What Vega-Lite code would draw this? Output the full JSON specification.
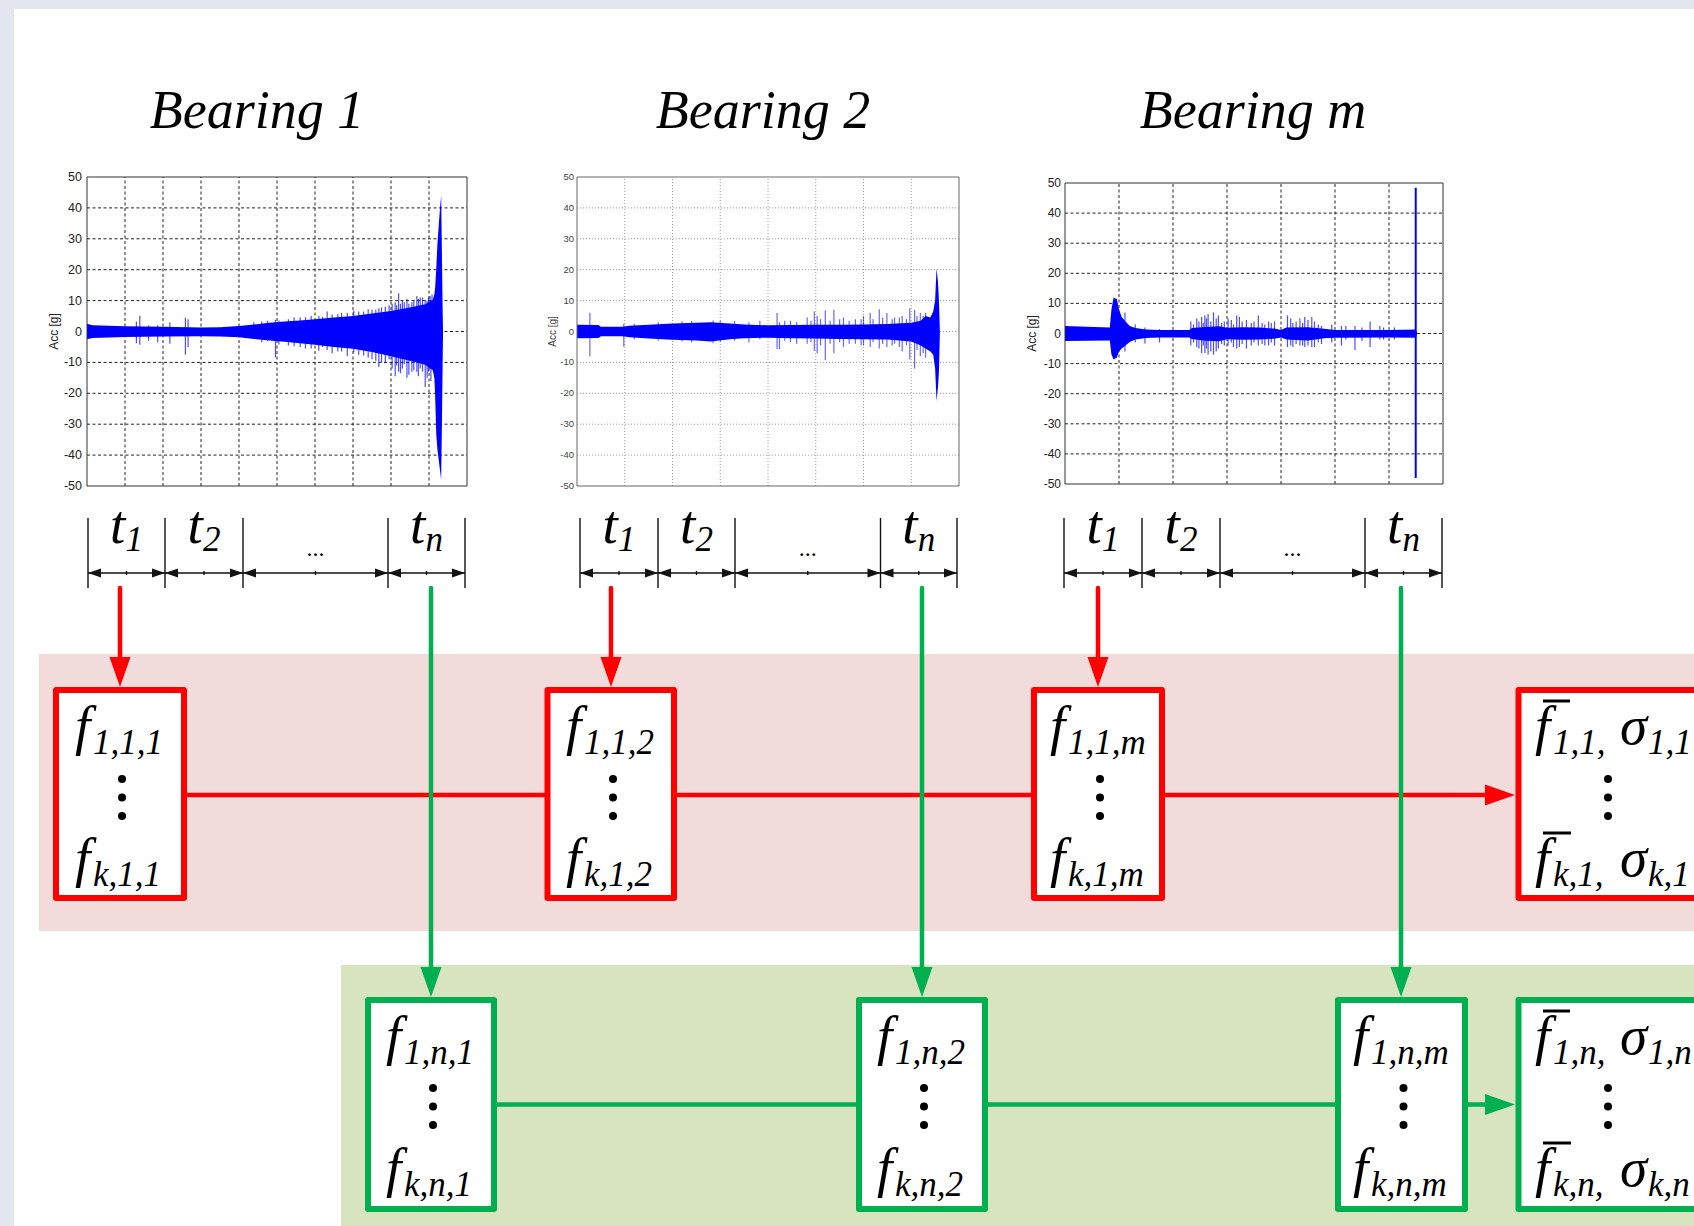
{
  "$schema": "https://vega.github.io/schema/vega-lite/v6.json",
  "width": 1694,
  "height": 1226,
  "autosize": {"type": "none"},
  "padding": 0,
  "background": "#e3e6ee",
  "config": {"view": {"stroke": null}, "axis": {"disable": true}, "legend": {"disable": true}},
  "resolve": {"scale": {"x": "independent", "y": "independent"}},
  "layer": [
    {
      "encoding": {
        "x": {"field": "x", "type": "quantitative", "scale": {"domain": [0, 1694], "range": [0, 1694], "nice": false, "zero": false}},
        "y": {"field": "y", "type": "quantitative", "scale": {"domain": [0, 1226], "range": [0, 1226], "nice": false, "zero": false}}
      },
      "layer": [
        {"data": {"values": [{"x": 14, "y": 9, "x2": 1700, "y2": 1230}]}, "mark": {"type": "rect", "fill": "#ffffff"}, "encoding": {"x2": {"field": "x2"}, "y2": {"field": "y2"}}},
        {"data": {"values": [{"x": 39, "y": 654, "x2": 1700, "y2": 931}]}, "mark": {"type": "rect", "fill": "#f2dcdb"}, "encoding": {"x2": {"field": "x2"}, "y2": {"field": "y2"}}},
        {"data": {"values": [{"x": 341, "y": 965, "x2": 1700, "y2": 1230}]}, "mark": {"type": "rect", "fill": "#d7e4bd"}, "encoding": {"x2": {"field": "x2"}, "y2": {"field": "y2"}}},
        {"data": {"values": [
          {"x": 120, "y": 588, "x2": 120, "y2": 670},
          {"x": 611, "y": 588, "x2": 611, "y2": 670},
          {"x": 1098, "y": 588, "x2": 1098, "y2": 670},
          {"x": 184, "y": 795, "x2": 1495, "y2": 795}
        ]}, "mark": {"type": "rule", "color": "#ff0000", "strokeWidth": 4.5, "strokeCap": "round"}, "encoding": {"x2": {"field": "x2"}, "y2": {"field": "y2"}}},
        {"data": {"values": [
          {"x": 56, "x2": 184, "y": 690, "y2": 898},
          {"x": 547.5, "x2": 674, "y": 690, "y2": 898},
          {"x": 1034, "x2": 1162, "y": 690, "y2": 898},
          {"x": 1518.5, "x2": 1760, "y": 690, "y2": 898}
        ]}, "mark": {"type": "rect", "fill": "#ffffff", "stroke": "#ff0000", "strokeWidth": 6, "strokeJoin": "round"}, "encoding": {"x2": {"field": "x2"}, "y2": {"field": "y2"}}},
        {"data": {"values": [
          {"x": 431, "y": 588, "x2": 431, "y2": 980},
          {"x": 922, "y": 588, "x2": 922, "y2": 980},
          {"x": 1401, "y": 588, "x2": 1401, "y2": 980},
          {"x": 494, "y": 1104.5, "x2": 1495, "y2": 1104.5}
        ]}, "mark": {"type": "rule", "color": "#00b050", "strokeWidth": 4.5, "strokeCap": "round"}, "encoding": {"x2": {"field": "x2"}, "y2": {"field": "y2"}}},
        {"data": {"values": [
          {"x": 368, "x2": 494, "y": 1000, "y2": 1209},
          {"x": 859, "x2": 985, "y": 1000, "y2": 1209},
          {"x": 1338, "x2": 1465, "y": 1000, "y2": 1209},
          {"x": 1518.5, "x2": 1760, "y": 1000, "y2": 1209}
        ]}, "mark": {"type": "rect", "fill": "#ffffff", "stroke": "#00b050", "strokeWidth": 6, "strokeJoin": "round"}, "encoding": {"x2": {"field": "x2"}, "y2": {"field": "y2"}}},
        {"data": {"values": [
          {"x": 120, "y": 687, "dir": "down"},
          {"x": 611, "y": 687, "dir": "down"},
          {"x": 1098, "y": 687, "dir": "down"},
          {"x": 1515, "y": 795, "dir": "right"}
        ]}, "mark": {"type": "point", "filled": true, "opacity": 1, "size": 900, "color": "#ff0000", "strokeWidth": 0},
         "encoding": {"shape": {"field": "dir", "type": "nominal", "scale": {"domain": ["down", "right", "left"], "range": ["M0,0L-0.7,-2L0.7,-2Z", "M0,0L-2,-0.7L-2,0.7Z", "M0,0L2,-0.7L2,0.7Z"]}}}},
        {"data": {"values": [
          {"x": 431, "y": 997, "dir": "down"},
          {"x": 922, "y": 997, "dir": "down"},
          {"x": 1401, "y": 997, "dir": "down"},
          {"x": 1515, "y": 1104.5, "dir": "right"}
        ]}, "mark": {"type": "point", "filled": true, "opacity": 1, "size": 900, "color": "#00b050", "strokeWidth": 0},
         "encoding": {"shape": {"field": "dir", "type": "nominal", "scale": {"domain": ["down", "right", "left"], "range": ["M0,0L-0.7,-2L0.7,-2Z", "M0,0L-2,-0.7L-2,0.7Z", "M0,0L2,-0.7L2,0.7Z"]}}}},
        {"data": {"values": [
          {"x": 88, "y": 518, "x2": 88, "y2": 588}, {"x": 165, "y": 518, "x2": 165, "y2": 588}, {"x": 243, "y": 518, "x2": 243, "y2": 588}, {"x": 388, "y": 518, "x2": 388, "y2": 588}, {"x": 465, "y": 518, "x2": 465, "y2": 588},
          {"x": 580, "y": 518, "x2": 580, "y2": 588}, {"x": 658, "y": 518, "x2": 658, "y2": 588}, {"x": 735, "y": 518, "x2": 735, "y2": 588}, {"x": 880.5, "y": 518, "x2": 880.5, "y2": 588}, {"x": 957, "y": 518, "x2": 957, "y2": 588},
          {"x": 1064, "y": 518, "x2": 1064, "y2": 588}, {"x": 1142, "y": 518, "x2": 1142, "y2": 588}, {"x": 1220, "y": 518, "x2": 1220, "y2": 588}, {"x": 1365, "y": 518, "x2": 1365, "y2": 588}, {"x": 1442, "y": 518, "x2": 1442, "y2": 588},
          {"x": 88, "y": 573, "x2": 465, "y2": 573}, {"x": 580, "y": 573, "x2": 957, "y2": 573}, {"x": 1064, "y": 573, "x2": 1442, "y2": 573},
          {"x": 126.5, "y": 571, "x2": 126.5, "y2": 575}, {"x": 204, "y": 571, "x2": 204, "y2": 575}, {"x": 315.5, "y": 571, "x2": 315.5, "y2": 575}, {"x": 426.5, "y": 571, "x2": 426.5, "y2": 575},
          {"x": 619, "y": 571, "x2": 619, "y2": 575}, {"x": 696.5, "y": 571, "x2": 696.5, "y2": 575}, {"x": 807.75, "y": 571, "x2": 807.75, "y2": 575}, {"x": 918.75, "y": 571, "x2": 918.75, "y2": 575},
          {"x": 1103, "y": 571, "x2": 1103, "y2": 575}, {"x": 1181, "y": 571, "x2": 1181, "y2": 575}, {"x": 1292.5, "y": 571, "x2": 1292.5, "y2": 575}, {"x": 1403.5, "y": 571, "x2": 1403.5, "y2": 575}
        ]}, "mark": {"type": "rule", "color": "#111111", "strokeWidth": 1.4}, "encoding": {"x2": {"field": "x2"}, "y2": {"field": "y2"}}},
        {"data": {"values": [
          {"x": 88, "y": 573, "dir": "left"}, {"x": 165, "y": 573, "dir": "right"}, {"x": 165, "y": 573, "dir": "left"}, {"x": 243, "y": 573, "dir": "right"}, {"x": 243, "y": 573, "dir": "left"}, {"x": 388, "y": 573, "dir": "right"}, {"x": 388, "y": 573, "dir": "left"}, {"x": 465, "y": 573, "dir": "right"},
          {"x": 580, "y": 573, "dir": "left"}, {"x": 658, "y": 573, "dir": "right"}, {"x": 658, "y": 573, "dir": "left"}, {"x": 735, "y": 573, "dir": "right"}, {"x": 735, "y": 573, "dir": "left"}, {"x": 880.5, "y": 573, "dir": "right"}, {"x": 880.5, "y": 573, "dir": "left"}, {"x": 957, "y": 573, "dir": "right"},
          {"x": 1064, "y": 573, "dir": "left"}, {"x": 1142, "y": 573, "dir": "right"}, {"x": 1142, "y": 573, "dir": "left"}, {"x": 1220, "y": 573, "dir": "right"}, {"x": 1220, "y": 573, "dir": "left"}, {"x": 1365, "y": 573, "dir": "right"}, {"x": 1365, "y": 573, "dir": "left"}, {"x": 1442, "y": 573, "dir": "right"}
        ]}, "mark": {"type": "point", "filled": true, "opacity": 1, "size": 169, "color": "#111111", "strokeWidth": 0},
         "encoding": {"shape": {"field": "dir", "type": "nominal", "scale": {"domain": ["down", "right", "left"], "range": ["M0,0L-0.7,-2L0.7,-2Z", "M0,0L-2,-0.7L-2,0.7Z", "M0,0L2,-0.7L2,0.7Z"]}}}},
        {"data": {"values": [
          {"x": 110, "y": 543, "s": "t"}, {"x": 187.5, "y": 543, "s": "t"}, {"x": 410, "y": 543, "s": "t"},
          {"x": 602.5, "y": 543, "s": "t"}, {"x": 680, "y": 543, "s": "t"}, {"x": 902.25, "y": 543, "s": "t"},
          {"x": 1086.5, "y": 543, "s": "t"}, {"x": 1164.5, "y": 543, "s": "t"}, {"x": 1387, "y": 543, "s": "t"},
          {"x": 75, "y": 744, "s": "f"}, {"x": 566, "y": 744, "s": "f"}, {"x": 1050, "y": 744, "s": "f"}, {"x": 1535, "y": 744, "s": "f"}, {"x": 1620, "y": 744, "s": "σ"},
          {"x": 75, "y": 876, "s": "f"}, {"x": 566, "y": 876, "s": "f"}, {"x": 1050, "y": 876, "s": "f"}, {"x": 1535, "y": 876, "s": "f"}, {"x": 1620, "y": 876, "s": "σ"},
          {"x": 386, "y": 1054, "s": "f"}, {"x": 877, "y": 1054, "s": "f"}, {"x": 1353, "y": 1054, "s": "f"}, {"x": 1535, "y": 1054, "s": "f"}, {"x": 1620, "y": 1054, "s": "σ"},
          {"x": 386, "y": 1186, "s": "f"}, {"x": 877, "y": 1186, "s": "f"}, {"x": 1353, "y": 1186, "s": "f"}, {"x": 1535, "y": 1186, "s": "f"}, {"x": 1620, "y": 1186, "s": "σ"}
        ]}, "mark": {"type": "text", "align": "left", "baseline": "alphabetic", "font": "Liberation Serif", "fontStyle": "italic", "fontSize": 55, "color": "#000000"}, "encoding": {"text": {"field": "s", "type": "nominal"}}},
        {"data": {"values": [
          {"x": 125.5, "y": 551, "s": "1"}, {"x": 203, "y": 551, "s": "2"}, {"x": 425.5, "y": 551, "s": "n"},
          {"x": 618, "y": 551, "s": "1"}, {"x": 695.5, "y": 551, "s": "2"}, {"x": 917.75, "y": 551, "s": "n"},
          {"x": 1102, "y": 551, "s": "1"}, {"x": 1180, "y": 551, "s": "2"}, {"x": 1402.5, "y": 551, "s": "n"},
          {"x": 93, "y": 754, "s": "1,1,1"}, {"x": 584, "y": 754, "s": "1,1,2"}, {"x": 1068, "y": 754, "s": "1,1,m"}, {"x": 1553, "y": 754, "s": "1,1,"}, {"x": 1648, "y": 754, "s": "1,1"},
          {"x": 93, "y": 886, "s": "k,1,1"}, {"x": 584, "y": 886, "s": "k,1,2"}, {"x": 1068, "y": 886, "s": "k,1,m"}, {"x": 1553, "y": 886, "s": "k,1,"}, {"x": 1648, "y": 886, "s": "k,1"},
          {"x": 404, "y": 1064, "s": "1,n,1"}, {"x": 895, "y": 1064, "s": "1,n,2"}, {"x": 1371, "y": 1064, "s": "1,n,m"}, {"x": 1553, "y": 1064, "s": "1,n,"}, {"x": 1648, "y": 1064, "s": "1,n"},
          {"x": 404, "y": 1196, "s": "k,n,1"}, {"x": 895, "y": 1196, "s": "k,n,2"}, {"x": 1371, "y": 1196, "s": "k,n,m"}, {"x": 1553, "y": 1196, "s": "k,n,"}, {"x": 1648, "y": 1196, "s": "k,n"}
        ]}, "mark": {"type": "text", "align": "left", "baseline": "alphabetic", "font": "Liberation Serif", "fontStyle": "italic", "fontSize": 35, "color": "#000000"}, "encoding": {"text": {"field": "s", "type": "nominal"}}},
        {"data": {"values": [
          {"x": 315.5, "y": 556, "s": "..."}, {"x": 807.75, "y": 556, "s": "..."}, {"x": 1292.5, "y": 556, "s": "..."}
        ]}, "mark": {"type": "text", "align": "center", "baseline": "alphabetic", "font": "Liberation Serif", "fontSize": 24, "color": "#000000"}, "encoding": {"text": {"field": "s", "type": "nominal"}}},
        {"data": {"values": [
          {"x": 1543, "y": 701, "x2": 1570, "y2": 701}, {"x": 1543, "y": 833, "x2": 1571, "y2": 833},
          {"x": 1543, "y": 1011, "x2": 1570, "y2": 1011}, {"x": 1543, "y": 1143, "x2": 1571, "y2": 1143}
        ]}, "mark": {"type": "rule", "color": "#000000", "strokeWidth": 3}, "encoding": {"x2": {"field": "x2"}, "y2": {"field": "y2"}}},
        {"data": {"values": [
          {"x": 122, "y": 779}, {"x": 122, "y": 797.5}, {"x": 122, "y": 816},
          {"x": 613, "y": 779}, {"x": 613, "y": 797.5}, {"x": 613, "y": 816},
          {"x": 1100, "y": 779}, {"x": 1100, "y": 797.5}, {"x": 1100, "y": 816},
          {"x": 1608, "y": 779}, {"x": 1608, "y": 797.5}, {"x": 1608, "y": 816},
          {"x": 433, "y": 1088}, {"x": 433, "y": 1106.5}, {"x": 433, "y": 1125},
          {"x": 924, "y": 1088}, {"x": 924, "y": 1106.5}, {"x": 924, "y": 1125},
          {"x": 1403.5, "y": 1088}, {"x": 1403.5, "y": 1106.5}, {"x": 1403.5, "y": 1125},
          {"x": 1608, "y": 1088}, {"x": 1608, "y": 1106.5}, {"x": 1608, "y": 1125}
        ]}, "mark": {"type": "circle", "size": 64, "opacity": 1, "color": "#000000"}},
        {"data": {"values": [
          {"x": 257, "y": 128, "label": "Bearing 1"}, {"x": 763, "y": 128, "label": "Bearing 2"}, {"x": 1253, "y": 128, "label": "Bearing m"}
        ]}, "mark": {"type": "text", "align": "center", "baseline": "alphabetic", "font": "Liberation Serif", "fontStyle": "italic", "fontSize": 54, "color": "#000000"}, "encoding": {"text": {"field": "label", "type": "nominal"}}}
      ]
    },
    {
      "layer": [
        {"data": {"values": [{"v": -40}, {"v": -30}, {"v": -20}, {"v": -10}, {"v": 0}, {"v": 10}, {"v": 20}, {"v": 30}, {"v": 40}]},
         "mark": {"type": "rule", "color": "#222222", "strokeWidth": 1, "strokeDash": [3, 2.5]},
         "encoding": {"x": {"datum": 0, "type": "quantitative", "scale": {"domain": [0, 10], "range": [87, 467], "nice": false, "zero": false}}, "x2": {"datum": 10},
                      "y": {"field": "v", "type": "quantitative", "scale": {"domain": [-50, 50], "range": [486, 177], "nice": false, "zero": false}}}},
        {"data": {"values": [{"v": 1}, {"v": 2}, {"v": 3}, {"v": 4}, {"v": 5}, {"v": 6}, {"v": 7}, {"v": 8}, {"v": 9}]},
         "mark": {"type": "rule", "color": "#222222", "strokeWidth": 1, "strokeDash": [3, 2.5]},
         "encoding": {"x": {"field": "v", "type": "quantitative", "scale": {"domain": [0, 10], "range": [87, 467], "nice": false, "zero": false}},
                      "y": {"datum": -50, "type": "quantitative", "scale": {"domain": [-50, 50], "range": [486, 177], "nice": false, "zero": false}}, "y2": {"datum": 50}}},
        {"data": {"values": [
          {"t": 0, "hi": 2.5, "lo": -2.5}, {"t": 0.15, "hi": 2, "lo": -2.1}, {"t": 1, "hi": 1.7, "lo": -1.8}, {"t": 2, "hi": 1.5, "lo": -1.6}, {"t": 3, "hi": 1.3, "lo": -1.5}, {"t": 3.5, "hi": 1.4, "lo": -1.6}, {"t": 4, "hi": 1.8, "lo": -1.9}, {"t": 4.4, "hi": 2.3, "lo": -2.4}, {"t": 4.8, "hi": 2.8, "lo": -2.9}, {"t": 5.2, "hi": 3.2, "lo": -3.3}, {"t": 5.6, "hi": 3.6, "lo": -3.8}, {"t": 6, "hi": 4, "lo": -4.3}, {"t": 6.5, "hi": 4.5, "lo": -5}, {"t": 7, "hi": 5, "lo": -5.6}, {"t": 7.5, "hi": 5.8, "lo": -6.6}, {"t": 8, "hi": 6.6, "lo": -8}, {"t": 8.5, "hi": 7.8, "lo": -9.5}, {"t": 8.9, "hi": 8.8, "lo": -10.8}, {"t": 9.1, "hi": 10.3, "lo": -12.5}, {"t": 9.14, "hi": 12, "lo": -15}, {"t": 9.16, "hi": 14, "lo": -20}, {"t": 9.19, "hi": 20, "lo": -33}, {"t": 9.22, "hi": 28, "lo": -38}, {"t": 9.26, "hi": 35, "lo": -42}, {"t": 9.29, "hi": 40, "lo": -45}, {"t": 9.32, "hi": 44, "lo": -48}, {"t": 9.34, "hi": 25, "lo": -30}, {"t": 9.36, "hi": 6, "lo": -9}, {"t": 9.37, "hi": 0, "lo": 0}
         ]},
         "mark": {"type": "area", "color": "#0000ff", "opacity": 1},
         "encoding": {"x": {"field": "t", "type": "quantitative", "scale": {"domain": [0, 10], "range": [87, 467], "nice": false, "zero": false}},
                      "y": {"field": "hi", "type": "quantitative", "scale": {"domain": [-50, 50], "range": [486, 177], "nice": false, "zero": false}}, "y2": {"field": "lo"}}},
        {"data": {"values": [
          {"t": 1.30, "hi": 3.2, "lo": -3.8}, {"t": 1.39, "hi": 5.1, "lo": -4.3}, {"t": 1.62, "hi": 2, "lo": -3}, {"t": 1.86, "hi": 2, "lo": -3.5}, {"t": 2.18, "hi": 3, "lo": -4}, {"t": 2.59, "hi": 4.5, "lo": -7.5}, {"t": 2.66, "hi": 4, "lo": -5}, {"t": 4.39, "hi": 3, "lo": -2}, {"t": 4.96, "hi": 3.8, "lo": -8.4}, {"t": 5.3, "hi": 4, "lo": -4.5}, {"t": 5.61, "hi": 4.5, "lo": -5}, {"t": 5.9, "hi": 5, "lo": -5.5}, {"t": 6.32, "hi": 6.5, "lo": -6}, {"t": 6.7, "hi": 6, "lo": -6.5}, {"t": 7.02, "hi": 6.8, "lo": -6.8}, {"t": 7.28, "hi": 6.5, "lo": -7.8}, {"t": 7.5, "hi": 7, "lo": -9}, {"t": 7.68, "hi": 7.5, "lo": -11.5}, {"t": 7.85, "hi": 8, "lo": -10}, {"t": 8.03, "hi": 9, "lo": -12}, {"t": 8.11, "hi": 9.5, "lo": -14.5}, {"t": 8.2, "hi": 12.4, "lo": -13}, {"t": 8.3, "hi": 10, "lo": -12}, {"t": 8.42, "hi": 10.5, "lo": -15}, {"t": 8.55, "hi": 9.5, "lo": -13}, {"t": 8.68, "hi": 11.5, "lo": -13}, {"t": 8.77, "hi": 11, "lo": -12}, {"t": 8.9, "hi": 10, "lo": -18}, {"t": 8.99, "hi": 11, "lo": -13}, {"t": 9.08, "hi": 12, "lo": -11},
          {"t": 4.6, "hi": 3.2, "lo": -3.5}, {"t": 4.75, "hi": 3.5, "lo": -3}, {"t": 5.05, "hi": 3.6, "lo": -4.2}, {"t": 5.45, "hi": 4.5, "lo": -4.8}, {"t": 5.75, "hi": 4.6, "lo": -5.5}, {"t": 6.1, "hi": 5, "lo": -6.2}, {"t": 6.2, "hi": 4.8, "lo": -5}, {"t": 6.45, "hi": 5.5, "lo": -7}, {"t": 6.6, "hi": 5.6, "lo": -6.5}, {"t": 6.85, "hi": 6, "lo": -8}, {"t": 7.15, "hi": 6.5, "lo": -7.5}, {"t": 7.4, "hi": 7.2, "lo": -8.5}, {"t": 7.6, "hi": 7, "lo": -9.5}, {"t": 7.75, "hi": 7.8, "lo": -10}, {"t": 7.95, "hi": 8.5, "lo": -9}, {"t": 8.15, "hi": 8.5, "lo": -11}, {"t": 8.25, "hi": 9, "lo": -13.5}, {"t": 8.35, "hi": 9.5, "lo": -10.5}, {"t": 8.47, "hi": 9, "lo": -14}, {"t": 8.6, "hi": 10, "lo": -12.5}, {"t": 8.72, "hi": 10.5, "lo": -14.5}, {"t": 8.83, "hi": 11, "lo": -13}, {"t": 8.95, "hi": 10, "lo": -15}, {"t": 9.03, "hi": 11.5, "lo": -12}, {"t": 9.05, "hi": 10, "lo": -16}
         ]},
         "mark": {"type": "rule", "color": "#0000ff", "strokeWidth": 1.2, "opacity": 0.7},
         "encoding": {"x": {"field": "t", "type": "quantitative", "scale": {"domain": [0, 10], "range": [87, 467], "nice": false, "zero": false}},
                      "y": {"field": "hi", "type": "quantitative", "scale": {"domain": [-50, 50], "range": [486, 177], "nice": false, "zero": false}}, "y2": {"field": "lo"}}},
        {"data": {"values": [{}]},
         "mark": {"type": "rect", "filled": false, "stroke": "#333333", "strokeWidth": 1},
         "encoding": {"x": {"datum": 0, "type": "quantitative", "scale": {"domain": [0, 10], "range": [87, 467], "nice": false, "zero": false}}, "x2": {"datum": 10},
                      "y": {"datum": -50, "type": "quantitative", "scale": {"domain": [-50, 50], "range": [486, 177], "nice": false, "zero": false}}, "y2": {"datum": 50}}},
        {"data": {"values": [{"v": 50, "lab": "50"}, {"v": 40, "lab": "40"}, {"v": 30, "lab": "30"}, {"v": 20, "lab": "20"}, {"v": 10, "lab": "10"}, {"v": 0, "lab": "0"}, {"v": -10, "lab": "-10"}, {"v": -20, "lab": "-20"}, {"v": -30, "lab": "-30"}, {"v": -40, "lab": "-40"}, {"v": -50, "lab": "-50"}]},
         "mark": {"type": "text", "align": "right", "baseline": "middle", "dx": -5, "font": "Liberation Sans Narrow, Liberation Sans", "fontSize": 12.5, "color": "#222222"},
         "encoding": {"x": {"datum": 0, "type": "quantitative", "scale": {"domain": [0, 10], "range": [87, 467], "nice": false, "zero": false}},
                      "y": {"field": "v", "type": "quantitative", "scale": {"domain": [-50, 50], "range": [486, 177], "nice": false, "zero": false}},
                      "text": {"field": "lab", "type": "nominal"}}},
        {"data": {"values": [{"lab": "Acc [g]"}]},
         "mark": {"type": "text", "align": "center", "baseline": "middle", "angle": 270, "font": "Liberation Sans", "fontSize": 12, "color": "#222222"},
         "encoding": {"x": {"datum": -0.88, "type": "quantitative", "scale": {"domain": [0, 10], "range": [87, 467], "nice": false, "zero": false}},
                      "y": {"datum": 0, "type": "quantitative", "scale": {"domain": [-50, 50], "range": [486, 177], "nice": false, "zero": false}},
                      "text": {"field": "lab", "type": "nominal"}}}
      ]
    },
    {
      "layer": [
        {"data": {"values": [{"v": -40}, {"v": -30}, {"v": -20}, {"v": -10}, {"v": 0}, {"v": 10}, {"v": 20}, {"v": 30}, {"v": 40}]},
         "mark": {"type": "rule", "color": "#9a9a9a", "strokeWidth": 1, "strokeDash": [1, 2]},
         "encoding": {"x": {"datum": 0, "type": "quantitative", "scale": {"domain": [0, 8], "range": [577, 959], "nice": false, "zero": false}}, "x2": {"datum": 8},
                      "y": {"field": "v", "type": "quantitative", "scale": {"domain": [-50, 50], "range": [486, 177], "nice": false, "zero": false}}}},
        {"data": {"values": [{"v": 1}, {"v": 2}, {"v": 3}, {"v": 4}, {"v": 5}, {"v": 6}, {"v": 7}]},
         "mark": {"type": "rule", "color": "#9a9a9a", "strokeWidth": 1, "strokeDash": [1, 2]},
         "encoding": {"x": {"field": "v", "type": "quantitative", "scale": {"domain": [0, 8], "range": [577, 959], "nice": false, "zero": false}},
                      "y": {"datum": -50, "type": "quantitative", "scale": {"domain": [-50, 50], "range": [486, 177], "nice": false, "zero": false}}, "y2": {"datum": 50}}},
        {"data": {"values": [
          {"t": 0, "hi": 2.2, "lo": -2.2}, {"t": 0.45, "hi": 2.1, "lo": -2.1}, {"t": 0.5, "hi": 1.5, "lo": -1.5}, {"t": 0.95, "hi": 1.5, "lo": -1.5}, {"t": 1.1, "hi": 1.9, "lo": -1.9}, {"t": 1.5, "hi": 2.2, "lo": -2.3}, {"t": 2, "hi": 2.6, "lo": -2.7}, {"t": 2.5, "hi": 2.8, "lo": -2.9}, {"t": 2.8, "hi": 3, "lo": -3.2}, {"t": 3.2, "hi": 2.6, "lo": -2.5}, {"t": 3.5, "hi": 2.3, "lo": -2.2}, {"t": 4, "hi": 2, "lo": -2}, {"t": 4.5, "hi": 2.1, "lo": -2.2}, {"t": 5, "hi": 2.2, "lo": -2.3}, {"t": 5.5, "hi": 2.2, "lo": -2.4}, {"t": 6, "hi": 2.3, "lo": -2.5}, {"t": 6.5, "hi": 2.4, "lo": -2.6}, {"t": 7, "hi": 2.8, "lo": -3.2}, {"t": 7.2, "hi": 3.5, "lo": -4.5}, {"t": 7.3, "hi": 5, "lo": -5.5}, {"t": 7.4, "hi": 4.5, "lo": -6.5}, {"t": 7.46, "hi": 6.5, "lo": -7.5}, {"t": 7.5, "hi": 10, "lo": -12}, {"t": 7.53, "hi": 20.5, "lo": -22.5}, {"t": 7.56, "hi": 16, "lo": -18}, {"t": 7.58, "hi": 10, "lo": -13}, {"t": 7.6, "hi": 0, "lo": 0}
         ]},
         "mark": {"type": "area", "color": "#0000ff", "opacity": 1},
         "encoding": {"x": {"field": "t", "type": "quantitative", "scale": {"domain": [0, 8], "range": [577, 959], "nice": false, "zero": false}},
                      "y": {"field": "hi", "type": "quantitative", "scale": {"domain": [-50, 50], "range": [486, 177], "nice": false, "zero": false}}, "y2": {"field": "lo"}}},
        {"data": {"values": [
          {"t": 0.27, "hi": 6.1, "lo": -8.1}, {"t": 0.98, "hi": 2.5, "lo": -4.9}, {"t": 2.85, "hi": 3.6, "lo": -3.8}, {"t": 3.83, "hi": 3.5, "lo": -2.5}, {"t": 4.19, "hi": 6, "lo": -5.7}, {"t": 4.24, "hi": 3, "lo": -5.7}, {"t": 4.47, "hi": 3.5, "lo": -3.5}, {"t": 4.82, "hi": 4.5, "lo": -4}, {"t": 4.97, "hi": 6.5, "lo": -6.2}, {"t": 5.03, "hi": 5, "lo": -7}, {"t": 5.2, "hi": 6.8, "lo": -9.3}, {"t": 5.38, "hi": 7, "lo": -7}, {"t": 5.58, "hi": 4.5, "lo": -5}, {"t": 5.83, "hi": 4, "lo": -4}, {"t": 6.0, "hi": 5, "lo": -4.5}, {"t": 6.14, "hi": 6, "lo": -5}, {"t": 6.33, "hi": 7.2, "lo": -5.5}, {"t": 6.49, "hi": 6, "lo": -5}, {"t": 6.65, "hi": 4.5, "lo": -4}, {"t": 6.81, "hi": 5, "lo": -6.5}, {"t": 6.97, "hi": 7.5, "lo": -9}, {"t": 7.07, "hi": 7, "lo": -12}, {"t": 7.19, "hi": 6, "lo": -8}, {"t": 7.3, "hi": 6, "lo": -8.5},
          {"t": 1.2, "hi": 2.5, "lo": -2.5}, {"t": 1.7, "hi": 3, "lo": -3}, {"t": 2.2, "hi": 3.3, "lo": -3.2}, {"t": 2.4, "hi": 3.4, "lo": -3.5}, {"t": 3.0, "hi": 3.5, "lo": -3.3}, {"t": 3.3, "hi": 3.4, "lo": -3}, {"t": 3.6, "hi": 3, "lo": -3.6}, {"t": 4.35, "hi": 3.5, "lo": -3}, {"t": 4.6, "hi": 3, "lo": -4}, {"t": 4.9, "hi": 3.5, "lo": -3.5}, {"t": 5.1, "hi": 4, "lo": -4.5}, {"t": 5.3, "hi": 3.5, "lo": -4}, {"t": 5.5, "hi": 4, "lo": -3.5}, {"t": 5.7, "hi": 3.5, "lo": -4}, {"t": 5.95, "hi": 4, "lo": -4.5}, {"t": 6.2, "hi": 4, "lo": -3.5}, {"t": 6.4, "hi": 4.5, "lo": -4}, {"t": 6.6, "hi": 4, "lo": -4.5}, {"t": 6.75, "hi": 4.5, "lo": -5}, {"t": 6.9, "hi": 4, "lo": -4.5}, {"t": 7.12, "hi": 5, "lo": -6}, {"t": 7.25, "hi": 5, "lo": -7}
         ]},
         "mark": {"type": "rule", "color": "#0000ff", "strokeWidth": 1.2, "opacity": 0.6},
         "encoding": {"x": {"field": "t", "type": "quantitative", "scale": {"domain": [0, 8], "range": [577, 959], "nice": false, "zero": false}},
                      "y": {"field": "hi", "type": "quantitative", "scale": {"domain": [-50, 50], "range": [486, 177], "nice": false, "zero": false}}, "y2": {"field": "lo"}}},
        {"data": {"values": [{}]},
         "mark": {"type": "rect", "filled": false, "stroke": "#666666", "strokeWidth": 1},
         "encoding": {"x": {"datum": 0, "type": "quantitative", "scale": {"domain": [0, 8], "range": [577, 959], "nice": false, "zero": false}}, "x2": {"datum": 8},
                      "y": {"datum": -50, "type": "quantitative", "scale": {"domain": [-50, 50], "range": [486, 177], "nice": false, "zero": false}}, "y2": {"datum": 50}}},
        {"data": {"values": [{"v": 50, "lab": "50"}, {"v": 40, "lab": "40"}, {"v": 30, "lab": "30"}, {"v": 20, "lab": "20"}, {"v": 10, "lab": "10"}, {"v": 0, "lab": "0"}, {"v": -10, "lab": "-10"}, {"v": -20, "lab": "-20"}, {"v": -30, "lab": "-30"}, {"v": -40, "lab": "-40"}, {"v": -50, "lab": "-50"}]},
         "mark": {"type": "text", "align": "right", "baseline": "middle", "dx": -3, "font": "Liberation Sans Narrow, Liberation Sans", "fontSize": 9.5, "color": "#444444"},
         "encoding": {"x": {"datum": 0, "type": "quantitative", "scale": {"domain": [0, 8], "range": [577, 959], "nice": false, "zero": false}},
                      "y": {"field": "v", "type": "quantitative", "scale": {"domain": [-50, 50], "range": [486, 177], "nice": false, "zero": false}},
                      "text": {"field": "lab", "type": "nominal"}}},
        {"data": {"values": [{"lab": "Acc [g]"}]},
         "mark": {"type": "text", "align": "center", "baseline": "middle", "angle": 270, "font": "Liberation Sans", "fontSize": 10, "color": "#444444"},
         "encoding": {"x": {"datum": -0.5, "type": "quantitative", "scale": {"domain": [0, 8], "range": [577, 959], "nice": false, "zero": false}},
                      "y": {"datum": 0, "type": "quantitative", "scale": {"domain": [-50, 50], "range": [486, 177], "nice": false, "zero": false}},
                      "text": {"field": "lab", "type": "nominal"}}}
      ]
    },
    {
      "layer": [
        {"data": {"values": [{"v": -40}, {"v": -30}, {"v": -20}, {"v": -10}, {"v": 0}, {"v": 10}, {"v": 20}, {"v": 30}, {"v": 40}]},
         "mark": {"type": "rule", "color": "#222222", "strokeWidth": 1, "strokeDash": [3, 2.5]},
         "encoding": {"x": {"datum": 0, "type": "quantitative", "scale": {"domain": [0, 7], "range": [1065, 1443], "nice": false, "zero": false}}, "x2": {"datum": 7},
                      "y": {"field": "v", "type": "quantitative", "scale": {"domain": [-50, 50], "range": [484, 183], "nice": false, "zero": false}}}},
        {"data": {"values": [{"v": 1}, {"v": 2}, {"v": 3}, {"v": 4}, {"v": 5}, {"v": 6}]},
         "mark": {"type": "rule", "color": "#222222", "strokeWidth": 1, "strokeDash": [3, 2.5]},
         "encoding": {"x": {"field": "v", "type": "quantitative", "scale": {"domain": [0, 7], "range": [1065, 1443], "nice": false, "zero": false}},
                      "y": {"datum": -50, "type": "quantitative", "scale": {"domain": [-50, 50], "range": [484, 183], "nice": false, "zero": false}}, "y2": {"datum": 50}}},
        {"data": {"values": [
          {"t": 0, "hi": 2.5, "lo": -2.5}, {"t": 0.83, "hi": 2, "lo": -2.3}, {"t": 0.86, "hi": 8, "lo": -7}, {"t": 0.9, "hi": 12, "lo": -8.6}, {"t": 0.96, "hi": 11.5, "lo": -8}, {"t": 1.0, "hi": 8, "lo": -6}, {"t": 1.05, "hi": 5.5, "lo": -5}, {"t": 1.12, "hi": 4, "lo": -4}, {"t": 1.2, "hi": 2.5, "lo": -2.8}, {"t": 1.3, "hi": 1.8, "lo": -2}, {"t": 1.5, "hi": 1.3, "lo": -1.5}, {"t": 1.75, "hi": 1.2, "lo": -1.3}, {"t": 2.3, "hi": 1.2, "lo": -1.3}, {"t": 2.35, "hi": 1.8, "lo": -1.8}, {"t": 2.6, "hi": 2.2, "lo": -2.4}, {"t": 2.85, "hi": 2.4, "lo": -2.6}, {"t": 3.0, "hi": 1.9, "lo": -1.9}, {"t": 3.3, "hi": 2.1, "lo": -2.1}, {"t": 3.6, "hi": 2, "lo": -2}, {"t": 3.9, "hi": 1.6, "lo": -1.7}, {"t": 4.0, "hi": 1.2, "lo": -1.3}, {"t": 4.1, "hi": 2, "lo": -2}, {"t": 4.5, "hi": 2.1, "lo": -2.3}, {"t": 4.8, "hi": 1.6, "lo": -1.6}, {"t": 5.0, "hi": 1.2, "lo": -1.4}, {"t": 6.0, "hi": 1.2, "lo": -1.3}, {"t": 6.5, "hi": 1.3, "lo": -1.4}, {"t": 6.52, "hi": 0, "lo": 0}
         ]},
         "mark": {"type": "area", "color": "#0000ff", "opacity": 1},
         "encoding": {"x": {"field": "t", "type": "quantitative", "scale": {"domain": [0, 7], "range": [1065, 1443], "nice": false, "zero": false}},
                      "y": {"field": "hi", "type": "quantitative", "scale": {"domain": [-50, 50], "range": [484, 183], "nice": false, "zero": false}}, "y2": {"field": "lo"}}},
        {"data": {"values": [
          {"t": 1.11, "hi": 7, "lo": -6}, {"t": 1.3, "hi": 3, "lo": -3}, {"t": 1.48, "hi": 2, "lo": -3.3}, {"t": 1.75, "hi": 1.5, "lo": -3}, {"t": 2.33, "hi": 4, "lo": -4}, {"t": 2.44, "hi": 5, "lo": -4.5}, {"t": 2.53, "hi": 5.5, "lo": -6.5}, {"t": 2.59, "hi": 6, "lo": -6.5}, {"t": 2.65, "hi": 6.5, "lo": -7}, {"t": 2.75, "hi": 7, "lo": -7}, {"t": 2.84, "hi": 6, "lo": -5}, {"t": 3.02, "hi": 5, "lo": -4}, {"t": 3.18, "hi": 6, "lo": -5}, {"t": 3.23, "hi": 5.5, "lo": -4.5}, {"t": 3.36, "hi": 4.5, "lo": -5}, {"t": 3.58, "hi": 6, "lo": -4}, {"t": 3.77, "hi": 4, "lo": -4}, {"t": 3.88, "hi": 4, "lo": -4}, {"t": 4.12, "hi": 6, "lo": -4.5}, {"t": 4.35, "hi": 5, "lo": -4}, {"t": 4.44, "hi": 5.5, "lo": -4.5}, {"t": 4.57, "hi": 5.5, "lo": -4.5}, {"t": 4.69, "hi": 3, "lo": -3}, {"t": 4.94, "hi": 3, "lo": -3}, {"t": 5.12, "hi": 2.5, "lo": -4}, {"t": 5.37, "hi": 2.5, "lo": -5.5}, {"t": 5.65, "hi": 4, "lo": -4.5}, {"t": 5.83, "hi": 2.5, "lo": -2},
          {"t": 2.38, "hi": 3, "lo": -3}, {"t": 2.48, "hi": 4, "lo": -5}, {"t": 2.56, "hi": 3.5, "lo": -4}, {"t": 2.62, "hi": 5, "lo": -5}, {"t": 2.7, "hi": 4, "lo": -6}, {"t": 2.8, "hi": 5, "lo": -6}, {"t": 2.9, "hi": 3.5, "lo": -3.5}, {"t": 2.95, "hi": 4, "lo": -4}, {"t": 3.08, "hi": 4.5, "lo": -3}, {"t": 3.12, "hi": 3, "lo": -4.5}, {"t": 3.28, "hi": 4, "lo": -3.5}, {"t": 3.45, "hi": 3.5, "lo": -4}, {"t": 3.5, "hi": 4, "lo": -3}, {"t": 3.65, "hi": 3.5, "lo": -3.5}, {"t": 3.7, "hi": 3, "lo": -4}, {"t": 3.82, "hi": 3.5, "lo": -3}, {"t": 4.18, "hi": 5, "lo": -4}, {"t": 4.22, "hi": 3.5, "lo": -4.5}, {"t": 4.28, "hi": 4, "lo": -3.5}, {"t": 4.4, "hi": 3.5, "lo": -4}, {"t": 4.5, "hi": 4.5, "lo": -4}, {"t": 4.62, "hi": 4, "lo": -4.5}, {"t": 4.75, "hi": 2.5, "lo": -3.5}, {"t": 5.2, "hi": 2.5, "lo": -2}, {"t": 5.5, "hi": 2, "lo": -2.5}, {"t": 5.9, "hi": 2, "lo": -2}, {"t": 6.1, "hi": 2, "lo": -2}
         ]},
         "mark": {"type": "rule", "color": "#0000ff", "strokeWidth": 1.2, "opacity": 0.7},
         "encoding": {"x": {"field": "t", "type": "quantitative", "scale": {"domain": [0, 7], "range": [1065, 1443], "nice": false, "zero": false}},
                      "y": {"field": "hi", "type": "quantitative", "scale": {"domain": [-50, 50], "range": [484, 183], "nice": false, "zero": false}}, "y2": {"field": "lo"}}},
        {"data": {"values": [{"t": 6.495, "hi": 48.4, "lo": -48}]},
         "mark": {"type": "rule", "color": "#0000ff", "strokeWidth": 2, "opacity": 1},
         "encoding": {"x": {"field": "t", "type": "quantitative", "scale": {"domain": [0, 7], "range": [1065, 1443], "nice": false, "zero": false}},
                      "y": {"field": "hi", "type": "quantitative", "scale": {"domain": [-50, 50], "range": [484, 183], "nice": false, "zero": false}}, "y2": {"field": "lo"}}},
        {"data": {"values": [{}]},
         "mark": {"type": "rect", "filled": false, "stroke": "#333333", "strokeWidth": 1},
         "encoding": {"x": {"datum": 0, "type": "quantitative", "scale": {"domain": [0, 7], "range": [1065, 1443], "nice": false, "zero": false}}, "x2": {"datum": 7},
                      "y": {"datum": -50, "type": "quantitative", "scale": {"domain": [-50, 50], "range": [484, 183], "nice": false, "zero": false}}, "y2": {"datum": 50}}},
        {"data": {"values": [{"v": 50, "lab": "50"}, {"v": 40, "lab": "40"}, {"v": 30, "lab": "30"}, {"v": 20, "lab": "20"}, {"v": 10, "lab": "10"}, {"v": 0, "lab": "0"}, {"v": -10, "lab": "-10"}, {"v": -20, "lab": "-20"}, {"v": -30, "lab": "-30"}, {"v": -40, "lab": "-40"}, {"v": -50, "lab": "-50"}]},
         "mark": {"type": "text", "align": "right", "baseline": "middle", "dx": -4, "font": "Liberation Sans", "fontSize": 12, "color": "#222222"},
         "encoding": {"x": {"datum": 0, "type": "quantitative", "scale": {"domain": [0, 7], "range": [1065, 1443], "nice": false, "zero": false}},
                      "y": {"field": "v", "type": "quantitative", "scale": {"domain": [-50, 50], "range": [484, 183], "nice": false, "zero": false}},
                      "text": {"field": "lab", "type": "nominal"}}},
        {"data": {"values": [{"lab": "Acc [g]"}]},
         "mark": {"type": "text", "align": "center", "baseline": "middle", "angle": 270, "font": "Liberation Sans", "fontSize": 12, "color": "#222222"},
         "encoding": {"x": {"datum": -0.61, "type": "quantitative", "scale": {"domain": [0, 7], "range": [1065, 1443], "nice": false, "zero": false}},
                      "y": {"datum": 0, "type": "quantitative", "scale": {"domain": [-50, 50], "range": [484, 183], "nice": false, "zero": false}},
                      "text": {"field": "lab", "type": "nominal"}}}
      ]
    }
  ]
}
